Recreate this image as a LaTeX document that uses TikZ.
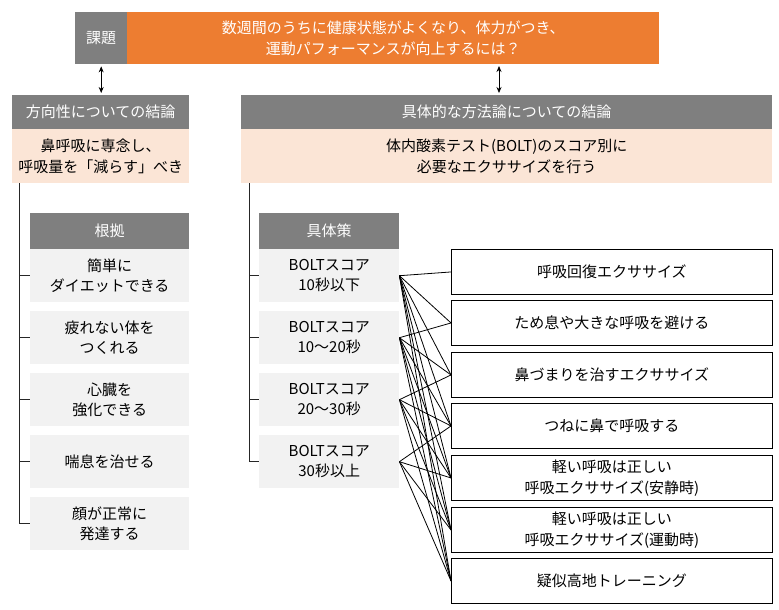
\documentclass[tikz,border=0pt]{standalone}
\usepackage{fontspec}
\setmainfont{Noto Sans CJK JP}
\usepackage{tikz}
\usetikzlibrary{arrows.meta}
\definecolor{hdrgray}{HTML}{7F7F7F}
\definecolor{qorange}{HTML}{ED7D31}
\definecolor{peach}{HTML}{FBE5D6}
\definecolor{itemgray}{HTML}{F2F2F2}

\begin{document}
\begin{tikzpicture}[x=1pt, y=-1pt,
    font=\fontsize{15}{20.5}\selectfont,
    box/.style={anchor=north west, inner sep=0pt, align=center},
    hdr/.style={box, fill=hdrgray, text=white},
    body/.style={box, fill=peach},
    item/.style={box, fill=itemgray, minimum height=53pt},
    exer/.style={box, draw=black, line width=0.9pt, fill=white, minimum width=321pt, minimum height=45pt},
    tree/.style={line width=0.9pt, black!85},
    wire/.style={line width=0.8pt, black},
    dbl/.style={{Stealth[length=6pt,width=5pt]}-{Stealth[length=6pt,width=5pt]}, line width=0.8pt, shorten <=2pt, shorten >=2pt}]
    \useasboundingbox (0,0) rectangle (779,610);

    % --- 1. 課題 ---
    \node[hdr, minimum width=52pt, minimum height=52pt] (kadai) at (75,12) {課題};
    \node[box, fill=qorange, text=white, minimum width=532pt, minimum height=52pt] (q) at (127,12)
        {数週間のうちに健康状態がよくなり、体力がつき、\\運動パフォーマンスが向上するには？};

    % --- 2. 結論 (左: 方向性, 右: 方法論) ---
    \node[hdr, minimum width=177pt, minimum height=34pt] (lhead) at (12,95) {方向性についての結論};
    \node[body, minimum width=177pt, minimum height=54pt] (lbody) at (12,129) {鼻呼吸に専念し、\\呼吸量を「減らす」べき};
    \node[hdr, minimum width=531pt, minimum height=34pt] (rhead) at (241,95) {具体的な方法論についての結論};
    \node[body, minimum width=531pt, minimum height=54pt] (rbody) at (241,129) {体内酸素テスト(BOLT)のスコア別に\\必要なエクササイズを行う};

    \draw[dbl] (kadai.south) -- (kadai.south |- lhead.north);
    \coordinate (a2) at (499,64);
    \draw[dbl] (a2) -- (a2 |- rhead.north);

    % --- 3. 根拠 ---
    \node[hdr, minimum width=159pt, minimum height=36pt] (ghead) at (30,213) {根拠};
    \node[item, minimum width=159pt] (g1) at (30,249) {簡単に\\ダイエットできる};
    \node[item, minimum width=159pt] (g2) at (30,311) {疲れない体を\\つくれる};
    \node[item, minimum width=159pt] (g3) at (30,373) {心臓を\\強化できる};
    \node[item, minimum width=159pt] (g4) at (30,435) {喘息を治せる};
    \node[item, minimum width=159pt] (g5) at (30,497) {顔が正常に\\発達する};

    \coordinate (ltop) at (19,183);
    \draw[tree] (ltop) -- (ltop |- g5.west);
    \foreach \i in {1,...,5}
        \draw[tree] (ltop |- g\i.west) -- (g\i.west);

    % --- 4. 具体策 ---
    \node[hdr, minimum width=140pt, minimum height=36pt] (shead) at (259,213) {具体策};
    \node[item, minimum width=140pt] (b1) at (259,249) {BOLTスコア\\10秒以下};
    \node[item, minimum width=140pt] (b2) at (259,311) {BOLTスコア\\10～20秒};
    \node[item, minimum width=140pt] (b3) at (259,373) {BOLTスコア\\20～30秒};
    \node[item, minimum width=140pt] (b4) at (259,435) {BOLTスコア\\30秒以上};

    \coordinate (rtop) at (249,183);
    \draw[tree] (rtop) -- (rtop |- b4.west);
    \foreach \i in {1,...,4}
        \draw[tree] (rtop |- b\i.west) -- (b\i.west);

    % --- 5. エクササイズ ---
    \node[exer] (e1) at (451,249) {呼吸回復エクササイズ};
    \node[exer] (e2) at (451,300) {ため息や大きな呼吸を避ける};
    \node[exer] (e3) at (451,352) {鼻づまりを治すエクササイズ};
    \node[exer] (e4) at (451,403) {つねに鼻で呼吸する};
    \node[exer] (e5) at (451,455) {軽い呼吸は正しい\\呼吸エクササイズ(安静時)};
    \node[exer] (e6) at (451,507) {軽い呼吸は正しい\\呼吸エクササイズ(運動時)};
    \node[exer] (e7) at (451,558) {疑似高地トレーニング};

    % スコアごとの対応
    \foreach \i in {1,...,4}
        \foreach \j in {\i,...,7}
            \draw[wire] (b\i.east) -- (e\j.west);
\end{tikzpicture}
\end{document}
